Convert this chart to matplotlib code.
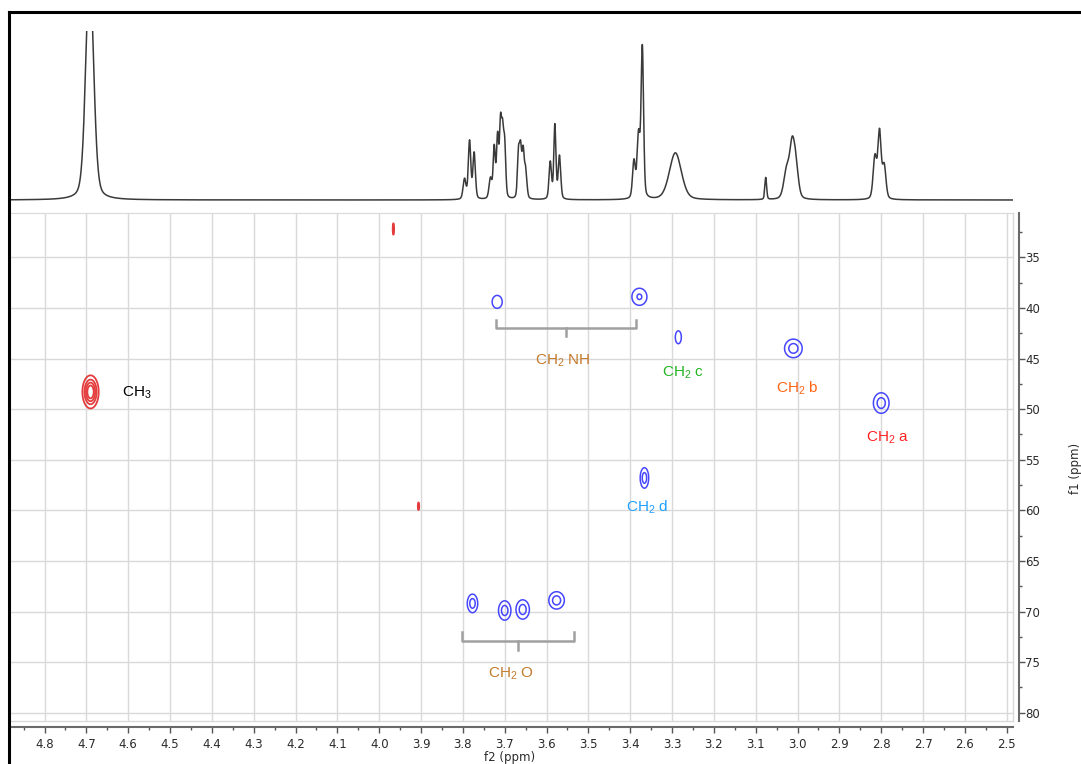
import matplotlib.pyplot as plt
import numpy as np
from matplotlib.lines import Line2D
from matplotlib.ticker import MultipleLocator

plt.rcParams['mathtext.fontset'] = 'custom'
plt.rcParams['mathtext.rm'] = 'Liberation Sans'

# 1H trace (top panel): centre ppm, height, full width ppm
h_shift = [4.692, 3.796, 3.784, 3.773, 3.734, 3.725, 3.717, 3.710, 3.705, 3.700,
           3.667, 3.662, 3.656, 3.650, 3.591, 3.580, 3.569, 3.391, 3.380, 3.371,
           3.292, 3.076, 3.026, 3.013, 3.004, 2.815, 2.804, 2.793]
h_height = [230, 20, 58, 46, 20, 50, 60, 70, 58, 50,
            44, 46, 44, 28, 37, 74, 43, 37, 62, 150,
            47, 22, 28, 48, 30, 42, 66, 33]
h_width = [0.022, 0.008, 0.007, 0.007, 0.008, 0.006, 0.006, 0.006, 0.006, 0.006,
           0.006, 0.006, 0.006, 0.007, 0.007, 0.006, 0.007, 0.008, 0.008, 0.007,
           0.034, 0.005, 0.016, 0.014, 0.014, 0.010, 0.009, 0.010]

# HSQC cross peaks: f2 ppm, f1 ppm, widths, amplitude (+ CH3 red, - CH2 blue)
pk_f2 = [4.690, 3.966, 3.906, 3.718, 3.378, 3.285, 3.010, 2.800, 3.366,
         3.777, 3.700, 3.657, 3.576]
pk_f1 = [48.3, 32.2, 59.6, 39.4, 38.9, 42.9, 44.0, 49.4, 56.8,
         69.2, 69.9, 69.8, 68.9]
pk_sx = [0.0100, 0.0022, 0.0022, 0.0102, 0.0102, 0.0061, 0.0108, 0.0096, 0.0052,
         0.0064, 0.0076, 0.0082, 0.0095]
pk_sy = [0.84, 0.75, 0.5, 0.54, 0.48, 0.54, 0.47, 0.52, 0.52,
         0.47, 0.49, 0.49, 0.44]
pk_amp = [1.0, 0.2, 0.2, -0.3, -0.7, -0.3, -1.0, -1.0, -1.0,
          -1.0, -1.0, -1.0, -1.0]

# assignment labels
lab_text = ['CH$_3$', 'CH$_2$ NH', 'CH$_2$ c', 'CH$_2$ b', 'CH$_2$ a', 'CH$_2$ d', 'CH$_2$ O']
lab_f2 = [4.580, 3.562, 3.273, 3.000, 2.785, 3.360, 3.684]
lab_f1 = [48.4, 45.2, 46.4, 47.9, 52.8, 59.7, 76.1]
lab_color = ['black', '#c47a2c', '#22b422', '#ff6414', '#ff2222', '#1ea0ff', '#c47a2c']

# brackets grouping peaks: left ppm, right ppm, tip f1, bar f1, stub f1
br_left = [3.720, 3.803]
br_right = [3.385, 3.535]
br_tip = [41.2, 72.0]
br_bar = [42.0, 72.9]
br_stub = [42.8, 73.8]

W, H = 1081, 764
fig = plt.figure(figsize=(W / 100, H / 100), dpi=100)

xlim = (4.8825, 2.485)

# ---- 1D trace ----
ax1 = fig.add_axes([10 / W, (H - 213) / H, 1003 / W, 182 / H])
x = np.linspace(xlim[1], xlim[0], 8000)
spec = np.zeros_like(x)
for c, h, w in zip(h_shift, h_height, h_width):
    s = w / 2.3548
    gau = np.exp(-(x - c) ** 2 / (2 * s ** 2))
    lor = 1 / (1 + ((x - c) / (w / 2)) ** 2)
    spec += h * (0.7 * gau + 0.3 * lor)
ax1.plot(x, spec, color='#3a3a3a', lw=1.1)
ax1.set_xlim(xlim)
ax1.set_ylim(-13, 169)
ax1.axis('off')

# ---- 2D HSQC ----
ax2 = fig.add_axes([10 / W, 43 / H, 1003 / W, 508 / H])
gx = np.arange(2.48, 4.89, 0.0008)
gy = np.arange(30.5, 81.0, 0.04)
X, Y = np.meshgrid(gx, gy)
Z = np.zeros_like(X)
for px, py, sx, sy, a in zip(pk_f2, pk_f1, pk_sx, pk_sy, pk_amp):
    Z += a * np.exp(-((X - px) ** 2 / (2 * sx ** 2) + (Y - py) ** 2 / (2 * sy ** 2)))
ax2.contour(X, Y, Z, levels=[0.15, 0.35, 0.55, 0.75], colors='#e43c3c',
            linewidths=1.3, linestyles='solid')
ax2.contour(X, Y, Z, levels=[-0.6, -0.15], colors='#4646ff',
            linewidths=1.1, linestyles='solid')

for t, lx, ly, col in zip(lab_text, lab_f2, lab_f1, lab_color):
    ax2.text(lx, ly, t, color=col, fontsize=11, family='Liberation Sans',
             ha='center', va='center')

for l, r, tip, bar, stub in zip(br_left, br_right, br_tip, br_bar, br_stub):
    mid = (l + r) / 2
    ax2.plot([l, l, r, r], [tip, bar, bar, tip], color='#a0a0a0', lw=1.8)
    ax2.plot([mid, mid], [bar, stub], color='#a0a0a0', lw=1.8)

ax2.set_xlim(xlim)
ax2.set_ylim(80.82, 30.62)
ax2.set_xticks(np.round(np.arange(2.5, 4.85, 0.1), 1))
ax2.xaxis.set_minor_locator(MultipleLocator(0.05))
ax2.yaxis.tick_right()
ax2.set_yticks(np.arange(35, 81, 5))
ax2.yaxis.set_minor_locator(MultipleLocator(2.5))
ax2.grid(True, which='major', color='#d9d9d9', lw=1)
ax2.tick_params(axis='x', which='major', direction='out', length=4.5, width=1,
                color='#555555', labelsize=8.5, labelcolor='#2a2a2a', pad=4)
ax2.tick_params(axis='x', which='minor', direction='out', length=2.5, width=1,
                color='#555555')
ax2.tick_params(axis='y', which='major', direction='out', length=4, width=1,
                color='#555555', labelsize=8.5, labelcolor='#2a2a2a', pad=1)
ax2.tick_params(axis='y', which='minor', direction='out', length=2.5, width=1,
                color='#555555')
for sp in ['top', 'left']:
    ax2.spines[sp].set_color('#d9d9d9')
for sp in ['right', 'bottom']:
    ax2.spines[sp].set_position(('outward', 4))
    ax2.spines[sp].set_color('#6a6a6a')
    ax2.spines[sp].set_linewidth(1.5)
ax2.axvline(xlim[1], color='#d9d9d9', lw=1, clip_on=False)
ax2.axhline(80.82, color='#d9d9d9', lw=1, clip_on=False)

fig.text(510 / W, 1 - 758 / H, 'f2 (ppm)', fontsize=8.5, color='#2a2a2a',
         ha='center', va='center')
fig.text(1075 / W, 1 - 468 / H, 'f1 (ppm)', fontsize=8.5, color='#2a2a2a',
         ha='center', va='center', rotation=90)

# outer frame
fig.add_artist(Line2D([9 / W, 9 / W], [0, 1 - 12 / H], color='black', lw=2.2))
fig.add_artist(Line2D([9 / W, 1], [1 - 12 / H, 1 - 12 / H], color='black', lw=2.2))

fig.savefig('out.png', dpi=100)
